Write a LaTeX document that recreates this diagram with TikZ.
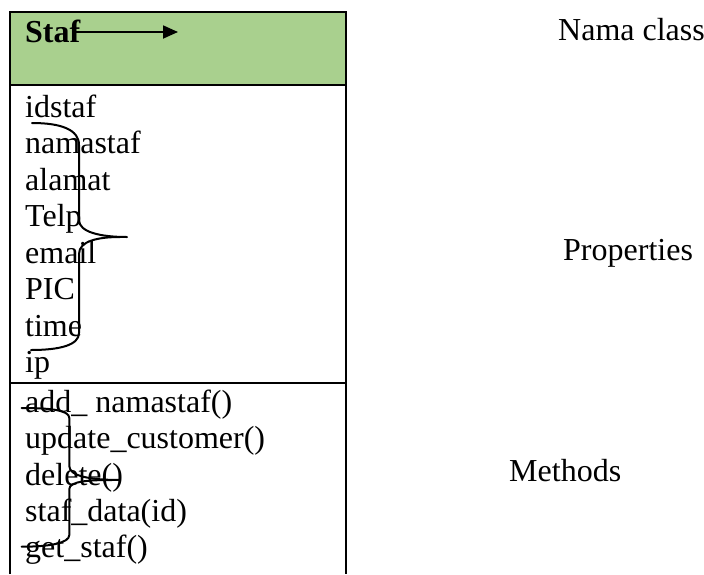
\documentclass[tikz,border=0pt]{standalone}
\usepackage{fontspec}
\setmainfont{Liberation Serif}
\usetikzlibrary{arrows.meta}
\definecolor{hdrgreen}{RGB}{169,208,142}
\tikzset{
  x=1pt,y=-1pt,
  txt/.style={anchor=base west,inner sep=0pt,font=\fontsize{32}{36}\selectfont},
  boxline/.style={line width=2.4pt},
  brace/.style={line width=2pt,line join=round,line cap=round},
  arr/.style={line width=1.8pt,-{Triangle[length=15pt,width=13pt]}}
}
\begin{document}
\begin{tikzpicture}
\useasboundingbox (0,0) rectangle (704,574);
% header
\fill[hdrgreen] (10,12) rectangle (346,85);
\draw[boxline] (10,574) -- (10,12) -- (346,12) -- (346,574);
\draw[boxline] (10,85) -- (346,85);
\draw[boxline] (10,383) -- (346,383);
% class name
\node[txt,font=\fontsize{32}{36}\selectfont\bfseries] (staf) at (25,42) {Staf};
\coordinate (arrS) at (75,32);
\coordinate (arrE) at (178,32);
\draw[arr] (arrS) -- (arrE);
% properties
\node[txt] (p1) at (25,117) {idstaf};
\node[txt] (p2) at (25,153.5) {namastaf};
\node[txt] (p3) at (25,190) {alamat};
\node[txt] (p4) at (25,226.5) {Telp};
\node[txt] (p5) at (25,263) {email};
\node[txt] (p6) at (25,299.5) {PIC};
\node[txt] (p7) at (25,336) {time};
\node[txt] (p8) at (25,372) {ip};
% methods
\node[txt] (m1) at (25,412) {add\_ namastaf()};
\node[txt] (m2) at (25,448.5) {update\_customer()};
\node[txt] (m3) at (25,485) {delete()};
\node[txt] (m4) at (25,521.5) {staf\_data(id)};
\node[txt] (m5) at (25,557) {get\_staf()};
% side labels
\node[txt] (lname) at (558,40) {Nama class};
\node[txt] (lprop) at (563,260) {Properties};
\node[txt] (lmeth) at (509,481) {Methods};
% properties brace
\draw[brace] (32,123) .. controls (62,123) and (79,130) .. (79,145)
  -- (79,220) .. controls (79,232) and (100,237) .. (127,237);
\draw[brace] (120,237) .. controls (98,237) and (79,241) .. (79,254)
  -- (79,333) .. controls (79,345) and (60,350) .. (31,350);
% methods brace
\draw[brace] (21.7,408) .. controls (50,408) and (69.3,410) .. (69.3,418)
  -- (69.3,466) .. controls (69.3,476) and (90,480) .. (120,480);
\draw[brace] (112,480) .. controls (90,480) and (69.3,481) .. (69.3,489)
  -- (69.3,535) .. controls (69.3,543) and (50,546.7) .. (21.7,546.7);
\end{tikzpicture}
\end{document}
